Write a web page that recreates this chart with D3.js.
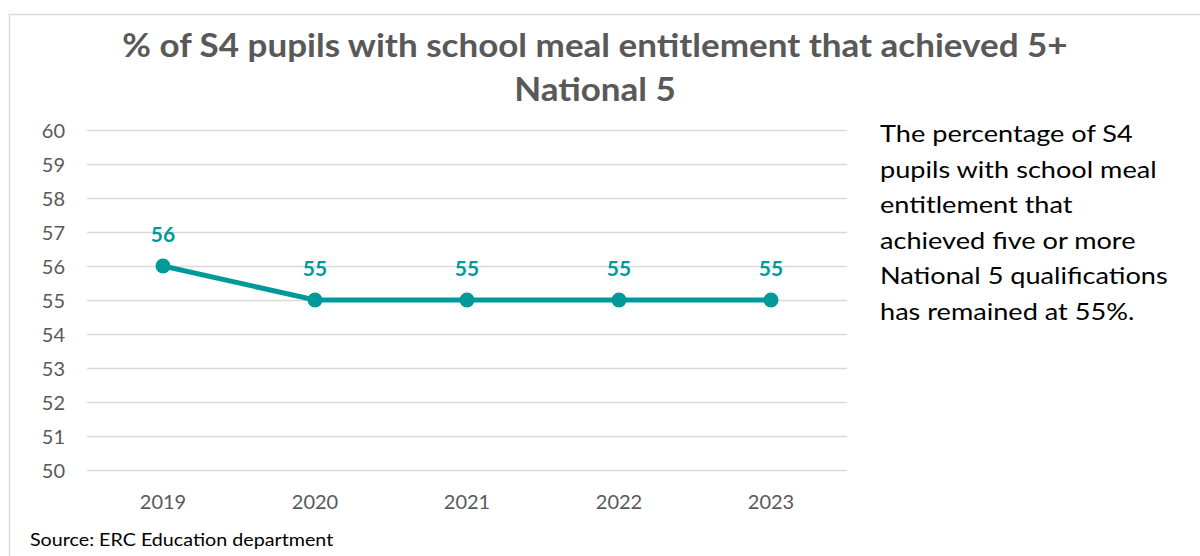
<!DOCTYPE html>
<html><head><meta charset="utf-8">
<script src="https://cdn.jsdelivr.net/npm/d3@7"></script>
<style>body{margin:0;background:#fff;}svg{display:block;}</style>
</head><body>
<svg id="c" width="1200" height="556"></svg>
<script>
const years = ["2019","2020","2021","2022","2023"];
const values = [56,55,55,55,55];
const yTicks = [50,51,52,53,54,55,56,57,58,59,60];
const titleLines = ["% of S4 pupils with school meal entitlement that achieved 5+","National 5"];
const noteLines = ["The percentage of S4","pupils with school meal","entitlement that","achieved five or more","National 5 qualifications","has remained at 55%."];
const source = "Source: ERC Education department";

const font = "Lato, 'Open Sans', sans-serif";
const svg = d3.select("#c");
function stretch(sel, f){
  sel.each(function(){
    const n = this.getComputedTextLength();
    d3.select(this).attr("textLength", n*f).attr("lengthAdjust","spacingAndGlyphs");
  });
}
svg.append("path").attr("d","M9.5,556 V14.5 H1200").attr("fill","none").attr("stroke","#d9d9d9").attr("stroke-width",1.5);

const x = d3.scaleBand().domain(years).range([87,847]);
const y = d3.scaleLinear().domain([50,60]).range([470,130]);

svg.append("g").attr("transform","translate(87,0)")
  .call(d3.axisLeft(y).tickValues(yTicks).tickSize(-760).tickFormat(d3.format("d")))
  .call(g=>g.select(".domain").remove())
  .call(g=>g.selectAll("line").attr("stroke","#d9d9d9").attr("stroke-width",1.5))
  .call(g=>g.selectAll("text").attr("x",-22).attr("dy","0.36em").attr("fill","#595959").style("font-family",font).style("font-size","20px"));

svg.append("g").attr("transform","translate(0,470)")
  .call(d3.axisBottom(x).tickSize(0).tickPadding(0))
  .call(g=>g.select(".domain").remove())
  .call(g=>g.selectAll("text").attr("y",39).attr("dy",0).attr("fill","#595959").style("font-family",font).style("font-size","20px"));

const cx = d=>x(d)+x.bandwidth()/2;
const pts = years.map((d,i)=>({yr:d,v:values[i]}));
svg.append("path").datum(pts)
  .attr("d",d3.line().x(d=>cx(d.yr)).y(d=>y(d.v)))
  .attr("fill","none").attr("stroke","#009999").attr("stroke-width",5);
svg.selectAll(".pt").data(pts).enter().append("circle")
  .attr("cx",d=>cx(d.yr)).attr("cy",d=>y(d.v)).attr("r",7.5).attr("fill","#009999");
svg.selectAll(".lbl").data(pts).enter().append("text")
  .attr("x",d=>cx(d.yr)).attr("y",d=>y(d.v)-24).attr("text-anchor","middle")
  .attr("fill","#009999").style("font-family",font).style("font-weight","bold").style("font-size","21px")
  .text(d=>d.v);

svg.selectAll(".title").data(titleLines).enter().append("text")
  .attr("x",595).attr("y",(d,i)=>57+i*44).attr("text-anchor","middle")
  .attr("fill","#595959").style("font-family",font).style("font-weight","bold").style("font-size","32px")
  .text(d=>d).call(stretch,1.094);

svg.selectAll(".note").data(noteLines).enter().append("text")
  .attr("x",880).attr("y",(d,i)=>142+i*35.6)
  .attr("fill","#000").style("font-family",font).style("font-size","24px")
  .text(d=>d).call(stretch,1.13);

svg.append("text").attr("x",30).attr("y",546).attr("fill","#000")
  .style("font-family",font).style("font-size","18px").text(source).call(stretch,1.094);
</script>
</body></html>
